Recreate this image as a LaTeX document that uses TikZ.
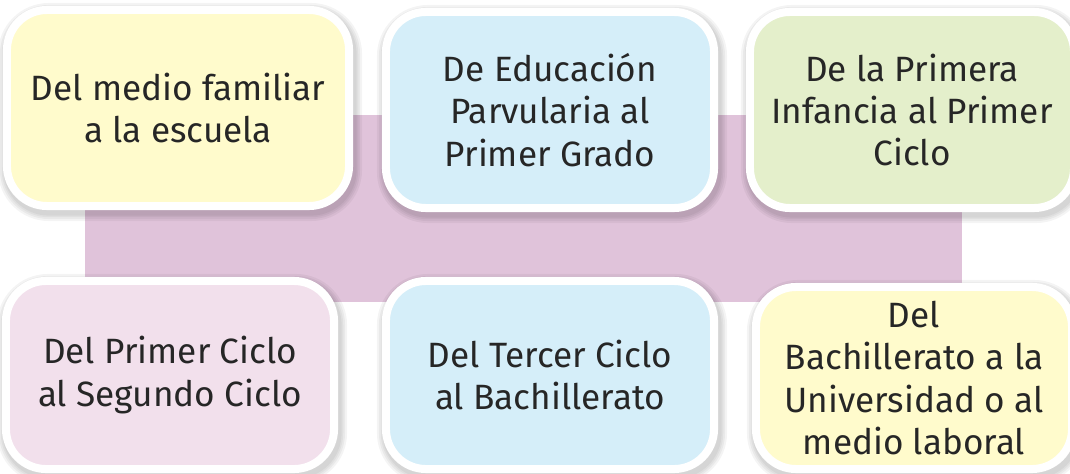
\documentclass[tikz,border=0pt]{standalone}
\usepackage{fontspec}
\setmainfont{Fira Sans}
\definecolor{cream}{HTML}{FFFBCC}
\definecolor{skyblue}{HTML}{D5EEF9}
\definecolor{palegreen}{HTML}{E4EFCB}
\definecolor{palepink}{HTML}{F2E0EC}
\definecolor{lilac}{HTML}{E0C3DA}
\begin{document}
\begin{tikzpicture}[x=0.025cm, y=-0.025cm,
  halo/.style={draw=black, line width=#1, opacity=0.045,
    transform canvas={shift={(0.5mm,-1mm)}}},
  stage/.style={draw=white, line width=0.2cm, rounded corners=1cm, align=center,
    inner sep=0pt, text=black!85, font=\fontsize{25}{30}\selectfont,
    preaction={halo=0.55cm}, preaction={halo=0.45cm}, preaction={halo=0.36cm},
    preaction={halo=0.28cm}}]
\useasboundingbox (0,0) rectangle (1070,473);
\fill[lilac] (85,115) rectangle (962,302);

\node[stage, fill=cream, minimum width=8.55cm, minimum height=4.9cm] (a) at (178,108) {Del medio familiar\\a la escuela};
\node[stage, fill=skyblue, minimum width=8.2cm, minimum height=4.9cm] (b) at (550,110) {De Educación\\Parvularia al\\Primer Grado};
\node[stage, fill=palegreen, minimum width=8.1cm, minimum height=4.9cm] (c) at (912,110) {De la Primera\\Infancia al Primer\\Ciclo};

\node[stage, fill=palepink, minimum width=8.2cm, minimum height=4.7cm] (d) at (170,375) {Del Primer Ciclo\\al Segundo Ciclo};
\node[stage, fill=skyblue, minimum width=8.2cm, minimum height=4.7cm] (e) at (550,375) {Del Tercer Ciclo\\al Bachillerato};
\node[stage, fill=cream, minimum width=7.9cm, minimum height=4.55cm] (f) at (914,378) {Del\\Bachillerato a la\\Universidad o al\\medio laboral};
\end{tikzpicture}
\end{document}
